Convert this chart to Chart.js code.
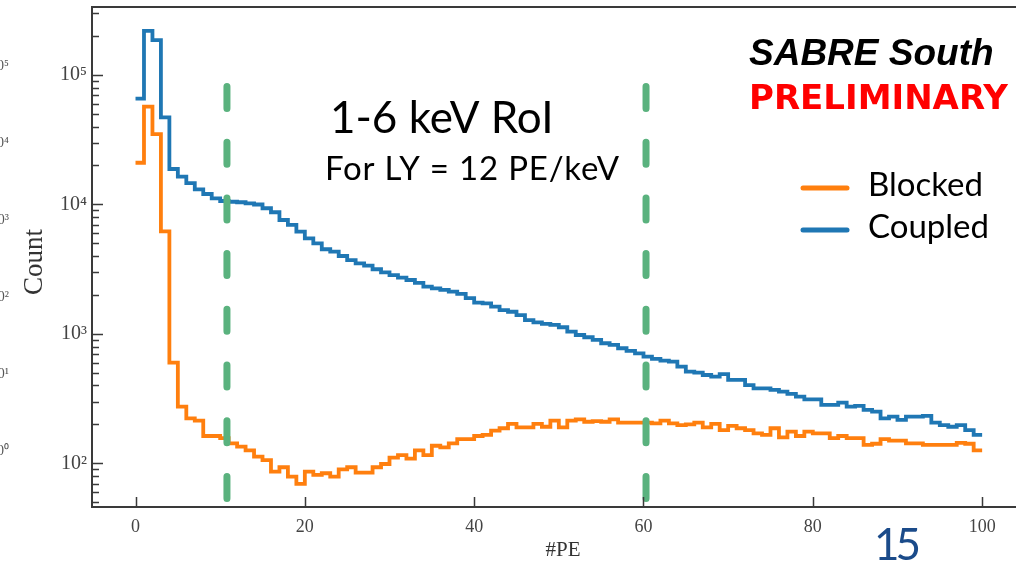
<!DOCTYPE html>
<html>
<head>
<meta charset="utf-8">
<script src="https://cdn.jsdelivr.net/npm/chart.js@4.4.1/dist/chart.umd.min.js"></script>
<style>
  html, body { margin: 0; padding: 0; background: #fff; }
  #wrap { width: 1016px; height: 562px; position: relative; }
</style>
</head>
<body>
<div id="wrap"><canvas id="peChart"></canvas></div>
<script>
// histogram bins, 1 PE wide, lower edges
var peStart = [0,1,2,3,4,5,6,7,8,9,10,11,12,13,14,15,16,17,18,19,20,21,22,23,24,25,26,27,28,29,30,31,32,33,34,35,36,37,38,39,40,41,42,43,44,45,46,47,48,49,50,51,52,53,54,55,56,57,58,59,60,61,62,63,64,65,66,67,68,69,70,71,72,73,74,75,76,77,78,79,80,81,82,83,84,85,86,87,88,89,90,91,92,93,94,95,96,97,98,99];
var binWidth = 1;

var blocked = [21000, 56900, 35000, 6200, 600, 275, 223, 214, 163, 163,
  157, 143, 135, 126, 113, 106, 86.5, 93.5, 79, 69.5,
  86.5, 81.5, 84, 79, 90, 93.5, 85, 85, 93.5, 99,
  111, 116, 109, 126, 116, 137, 133, 143, 154, 154,
  163, 166, 179, 187, 202, 190, 190, 202, 192, 214,
  190, 214, 219, 210, 212, 210, 219, 207, 207, 207,
  207, 204, 214, 204, 198, 200, 207, 190, 202, 181,
  195, 187, 181, 171, 166, 187, 159, 176, 163, 176,
  171, 171, 157, 163, 157, 157, 139, 142, 154, 150,
  150, 143, 143, 139, 139, 139, 139, 144, 142, 126];

var coupled = [65600, 219000, 186000, 47100, 18800, 16400, 14600, 13100, 12050, 11160,
  10640, 10500, 10400, 10200, 10000, 9350, 8710, 7590, 6950, 6170,
  5480, 5010, 4510, 4320, 4000, 3720, 3510, 3370, 3160, 2990,
  2850, 2720, 2610, 2480, 2320, 2250, 2190, 2120, 2040, 1890,
  1745, 1725, 1625, 1530, 1485, 1400, 1280, 1230, 1195, 1175,
  1127, 1042, 982, 943, 900, 848, 823, 776, 739, 709,
  668, 641, 622, 611, 559, 512, 502, 482, 469, 489,
  442, 442, 403, 380, 380, 370, 359, 344, 328, 313,
  313, 283, 283, 295, 275, 278, 259, 251, 223, 230,
  217, 230, 230, 233, 207, 198, 192, 198, 181, 166];

// RoI edges (1 and 6 keV) and the span of the dashed markers
var roiEdges = [10.8, 60.3];
var roiTop = 81500, roiBottom = 40;

var xTicks = [0, 20, 40, 60, 80, 100];
var yTicks = [100, 1000, 10000, 100000];
var yTickText = ['10\u00b2', '10\u00b3', '10\u2074', '10\u2075'];
// leftover axis labels from the slide underneath
var ghostText = ['10\u2075', '10\u2074', '10\u00b3', '10\u00b2', '10\u00b9', '10\u2070'];

var blue = '#1f77b4', orange = '#ff7f0e', green = '#5ab27e';

function stepPoints(values) {
  var pts = [];
  for (var i = 0; i < values.length; i++) {
    pts.push({x: peStart[i], y: values[i]});
    pts.push({x: peStart[i] + binWidth, y: values[i]});
  }
  return pts;
}

function roiLine(x) {
  return {
    label: 'roi', data: [{x: x, y: roiTop}, {x: x, y: roiBottom}],
    borderColor: green, borderWidth: 7, borderDash: [22, 33.7], borderCapStyle: 'round',
    pointRadius: 0
  };
}

var decor = {
  id: 'decor',
  afterDraw: function(chart) {
    var ctx = chart.ctx, a = chart.chartArea, xs = chart.scales.x, ys = chart.scales.y;
    ctx.save();
    ctx.strokeStyle = '#3a3a3a';
    ctx.lineWidth = 2;
    ctx.beginPath(); ctx.moveTo(a.left - 1, a.top); ctx.lineTo(a.right, a.top); ctx.stroke();

    // inward ticks
    ctx.lineWidth = 1.5;
    ctx.beginPath();
    xTicks.forEach(function(v) {
      var px = Math.round(xs.getPixelForValue(v)) + 0.5;
      ctx.moveTo(px, a.bottom); ctx.lineTo(px, a.bottom - 10);
    });
    for (var d = 1; d <= 5; d++) {
      for (var m = 1; m <= 9; m++) {
        var v = m * Math.pow(10, d);
        if (v < ys.min || v > ys.max) continue;
        var py = Math.round(ys.getPixelForValue(v)) + 0.5;
        ctx.moveTo(a.left, py); ctx.lineTo(a.left + (m === 1 ? 11 : 7), py);
      }
    }
    ctx.stroke();

    // axis titles
    ctx.fillStyle = '#333';
    ctx.font = '21px "Liberation Serif"';
    ctx.textAlign = 'center'; ctx.textBaseline = 'alphabetic';
    ctx.fillText('#PE', 563, 556);
    ctx.save();
    ctx.translate(42, 262); ctx.rotate(-Math.PI / 2);
    ctx.font = '27px "Liberation Serif"';
    ctx.fillText('Count', 0, 0);
    ctx.restore();

    ctx.font = '14px "Liberation Serif"';
    ctx.fillStyle = '#555';
    ctx.textAlign = 'right'; ctx.textBaseline = 'middle';
    ghostText.forEach(function(t, i) { ctx.fillText(t, 9, 66 + 77 * i); });

    // annotations
    ctx.textAlign = 'left'; ctx.textBaseline = 'alphabetic';
    ctx.fillStyle = '#000';
    ctx.font = '44px Lato';
    ctx.fillText('1-6 keV RoI', 330, 133);
    ctx.font = '33px Lato';
    ctx.letterSpacing = '0.8px';
    ctx.fillText('For LY = 12 PE/keV', 325, 180);
    ctx.letterSpacing = '0px';
    ctx.font = 'italic bold 37px "Liberation Sans"';
    ctx.fillText('SABRE South', 749, 65);
    ctx.fillStyle = '#ff0000';
    ctx.font = 'bold 34px "DejaVu Sans"';
    ctx.fillText('PRELIMINARY', 749, 109);

    // legend
    var items = [{t: 'Blocked', c: orange, y: 188}, {t: 'Coupled', c: blue, y: 230}];
    ctx.lineCap = 'round'; ctx.lineWidth = 5;
    items.forEach(function(it) {
      ctx.strokeStyle = it.c;
      ctx.beginPath(); ctx.moveTo(803, it.y); ctx.lineTo(847, it.y); ctx.stroke();
      ctx.fillStyle = '#000';
      ctx.font = '33px Lato';
      ctx.fillText(it.t, 868, it.y + 8);
    });

    ctx.fillStyle = '#1b4b8a';
    ctx.font = '44px Lato';
    ctx.letterSpacing = '-4px';
    ctx.fillText('15', 874, 560);
    ctx.restore();
  }
};

var ctx = document.getElementById('peChart').getContext('2d');
var myChart = new Chart(ctx, {
  type: 'line',
  data: {
    datasets: [
      roiLine(roiEdges[0]),
      roiLine(roiEdges[1]),
      { label: 'Blocked', data: stepPoints(blocked), borderColor: orange, borderWidth: 3.8, pointRadius: 0 },
      { label: 'Coupled', data: stepPoints(coupled), borderColor: blue, borderWidth: 3.8, pointRadius: 0 }
    ]
  },
  options: {
    responsive: true,
    maintainAspectRatio: false,
    animation: false,
    layout: { padding: { top: 7, left: 0, right: 0, bottom: 0 } },
    plugins: { legend: { display: false }, tooltip: { enabled: false } },
    scales: {
      x: {
        type: 'linear', min: -5.14, max: 104,
        grid: { display: false, drawTicks: false },
        border: { display: true, color: '#3a3a3a', width: 2 },
        ticks: { padding: 9, color: '#444', font: { family: 'Liberation Serif', size: 18 } },
        afterBuildTicks: function(s) { s.ticks = xTicks.map(function(v) { return {value: v}; }); },
        afterFit: function(s) { s.height = 55; s.paddingLeft = 0; s.paddingRight = 0; }
      },
      y: {
        type: 'logarithmic', min: 46.1, max: 335000,
        grid: { display: false, drawTicks: false },
        border: { display: true, color: '#3a3a3a', width: 2 },
        ticks: {
          padding: 5, color: '#444', font: { family: 'Liberation Serif', size: 20 },
          callback: function(v, i) { return yTickText[i]; }
        },
        afterBuildTicks: function(s) { s.ticks = yTicks.map(function(v) { return {value: v}; }); },
        afterFit: function(s) { s.width = 92; s.paddingTop = 0; s.paddingBottom = 0; }
      }
    }
  },
  plugins: [decor]
});
</script>
</body>
</html>
